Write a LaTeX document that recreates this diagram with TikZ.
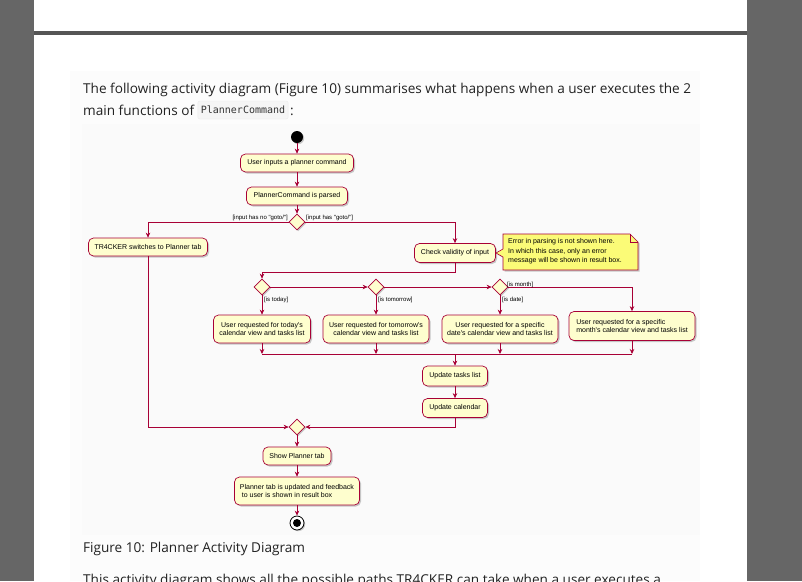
\documentclass[tikz,border=0pt]{standalone}
\usepackage{fontspec}
\setmainfont{Open Sans}
\newfontfamily\diagfont{Liberation Sans}
\newfontfamily\codefont{DejaVu Sans Mono}
\usetikzlibrary{arrows.meta,shapes.geometric,shadows,positioning}
\definecolor{umlred}{HTML}{A80036}
\definecolor{umlyel}{HTML}{FEFECE}
\definecolor{notey}{HTML}{FBFB77}
\definecolor{sidegray}{HTML}{666666}
\definecolor{bargray}{HTML}{555555}
\definecolor{pagetext}{HTML}{222222}
\tikzset{
  act/.style={draw=umlred, fill=umlyel, rounded corners=5pt, line width=0.7pt,
    font=\diagfont\fontsize{7.0}{8.4}\selectfont, align=center, inner xsep=3pt,
    minimum height=18pt,
    drop shadow={shadow xshift=1.5pt, shadow yshift=-1.5pt, opacity=0.35, fill=black!60}},
  dec/.style={diamond, aspect=1, draw=umlred, fill=umlyel, line width=0.7pt,
    minimum size=16pt, inner sep=0pt,
    drop shadow={shadow xshift=1.2pt, shadow yshift=-1.2pt, opacity=0.35, fill=black!60}},
  arr/.style={draw=umlred, line width=0.7pt, -{Stealth[length=5pt,width=4.5pt]}},
  ln/.style={draw=umlred, line width=0.7pt},
  guard/.style={font=\diagfont\fontsize{6.0}{7}\selectfont, inner sep=1pt},
  maintext/.style={font=\fontsize{13.6}{16}\selectfont, text=pagetext, inner sep=0pt}
}
\begin{document}
\begin{tikzpicture}[x=1pt,y=-1pt]
\useasboundingbox (0,0) rectangle (802,581);
\clip (0,0) rectangle (802,581);
% page background
\fill[white] (0,0) rectangle (802,581);
\fill[sidegray] (0,0) rectangle (34,581);
\fill[sidegray] (747,0) rectangle (802,581);
\fill[bargray] (34,31) rectangle (747,35);
\fill[black!1] (70,71) rectangle (700,581);
\fill[black!2] (82,124) rectangle (700,535);

% page text
\node[maintext, anchor=base west] (t1) at (83,93) {The following activity diagram (Figure 10) summarises what happens when a user executes the 2};
\node[maintext, anchor=base west] (t2) at (83,115) {main functions of};
\node[fill=black!4, draw=black!8, rounded corners=2pt, inner xsep=3pt, minimum height=18pt,
  font=\codefont\fontsize{10.0}{12}\selectfont, text=black!80] (code) at (243,110) {PlannerCommand};
\node[maintext, anchor=base west] (t3) at (290,115) {:};
\node[maintext, anchor=base west] (cap) at (83,552) {Figure 10: Planner Activity Diagram};
\node[maintext, anchor=base west] (t4) at (83,584) {This activity diagram shows all the possible paths TR4CKER can take when a user executes a};

% diagram
\node[circle, fill=black, minimum size=12pt, inner sep=0pt,
  drop shadow={shadow xshift=1.2pt, shadow yshift=-1.2pt, opacity=0.35, fill=black!60}] (start) at (297,137) {};
\node[act, minimum width=113pt] (a1) at (297,163) {User inputs a planner command};
\node[act, minimum width=101pt] (a2) at (297,196) {PlannerCommand is parsed};
\node[dec] (d1) at (297,222) {};
\node[act, minimum width=119pt] (tr) at (148,247) {TR4CKER switches to Planner tab};
\node[act, minimum width=81pt, minimum height=19pt] (cv) at (455,253) {Check validity of input};

% note
\coordinate (nA) at (503,234);
\fill[black!60, opacity=0.35, shift={(1.5,1.5)}]
  (503,234) -- (630,234) -- (638,242) -- (638,270) -- (503,270) -- (503,257) -- (496,253) -- (503,249) -- cycle;
\draw[umlred, fill=notey, line width=0.6pt]
  (nA) -- (630,234) -- (638,242) -- (638,270) -- (503,270) -- (503,257) -- (496,253) -- (503,249) -- cycle;
\draw[umlred, line width=0.6pt] (630,234) -- (630,242) -- (638,242);
\node[anchor=north west, font=\diagfont\fontsize{7.0}{9.8}\selectfont, align=left, inner sep=0pt] (note) at (508,238)
  {Error in parsing is not shown here.\\In which this case, only an error\\message will be shown in result box.};

\node[dec] (d2) at (262,287) {};
\node[dec] (d3) at (376,287) {};
\node[dec] (d4) at (500,287) {};

\node[act, minimum width=97pt, minimum height=28pt] (b1) at (262,329) {User requested for today's\\calendar view and tasks list};
\node[act, minimum width=106pt, minimum height=28pt] (b2) at (376,329) {User requested for tomorrow's\\calendar view and tasks list};
\node[act, minimum width=116pt, minimum height=28pt] (b3) at (500,329) {User requested for a specific\\date's calendar view and tasks list};
\node[act, minimum width=126pt, minimum height=29pt, align=left] (b4) at (632,326) {User requested for a specific\\month's calendar view and tasks list};

\node[act, minimum width=65pt, minimum height=20pt] (u1) at (455,376) {Update tasks list};
\node[act, minimum width=65pt, minimum height=19pt] (u2) at (455,408) {Update calendar};
\node[dec] (d5) at (297,427) {};
\node[act, minimum width=68pt] (s1) at (297,456) {Show Planner tab};
\node[act, minimum width=125pt, minimum height=28pt, align=left] (s2) at (297,491) {Planner tab is updated and feedback\\\ to user is shown in result box};
\node[circle, draw=black, fill=white, line width=0.8pt, minimum size=14pt, inner sep=0pt,
  drop shadow={shadow xshift=1.2pt, shadow yshift=-1.2pt, opacity=0.35, fill=black!60}] (end) at (297,523) {};
\node[circle, fill=black, minimum size=8pt, inner sep=0pt] (endin) at (end) {};

% coordinates
\coordinate (c1) at (455,272);
\coordinate (m1) at (262,354);
\coordinate (m2) at (376,354);
\coordinate (m3) at (500,354);
\coordinate (m4) at (632,354);
\coordinate (mc) at (455,354);

% connectors
\draw[arr] (start) -- (a1);
\draw[arr] (a1) -- (a2);
\draw[arr] (a2) -- (d1);
\draw[arr] (d1.west) -| (tr.north);
\draw[arr] (d1.east) -| (cv.north);
\node[guard, anchor=base east] (g1) at (289,219.5) {[input has no "goto/"]};
\node[guard, anchor=base west] (g2) at (305,219.5) {[input has "goto/"]};
\draw[arr] (cv.south) -- (c1) -| (d2.north);
\draw[arr] (d2.east) -- (d3.west);
\draw[arr] (d3.east) -- (d4.west);
\draw[arr] (d4.east) -| (b4.north);
\draw[arr] (d2.south) -- (b1.north);
\draw[arr] (d3.south) -- (b2.north);
\draw[arr] (d4.south) -- (b3.north);
\node[guard, anchor=base west] (g3) at (263,301) {[is today]};
\node[guard, anchor=base west] (g4) at (377,301) {[is tomorrow]};
\node[guard, anchor=base west] (g5) at (501,301) {[is date]};
\node[guard, anchor=base west] (g6) at (506,286) {[is month]};
\draw[arr] (b1.south) -- (m1);
\draw[arr] (b2.south) -- (m2);
\draw[arr] (b3.south) -- (m3);
\draw[arr] (b4.south) -- (m4);
\draw[ln] (m1) -- (m4);
\draw[arr] (mc) -- (u1.north);
\draw[arr] (u1) -- (u2);
\draw[arr] (u2.south) |- (d5.east);
\draw[arr] (tr.south) |- (d5.west);
\draw[arr] (d5) -- (s1);
\draw[arr] (s1) -- (s2);
\draw[arr] (s2) -- (end);
\end{tikzpicture}
\end{document}
